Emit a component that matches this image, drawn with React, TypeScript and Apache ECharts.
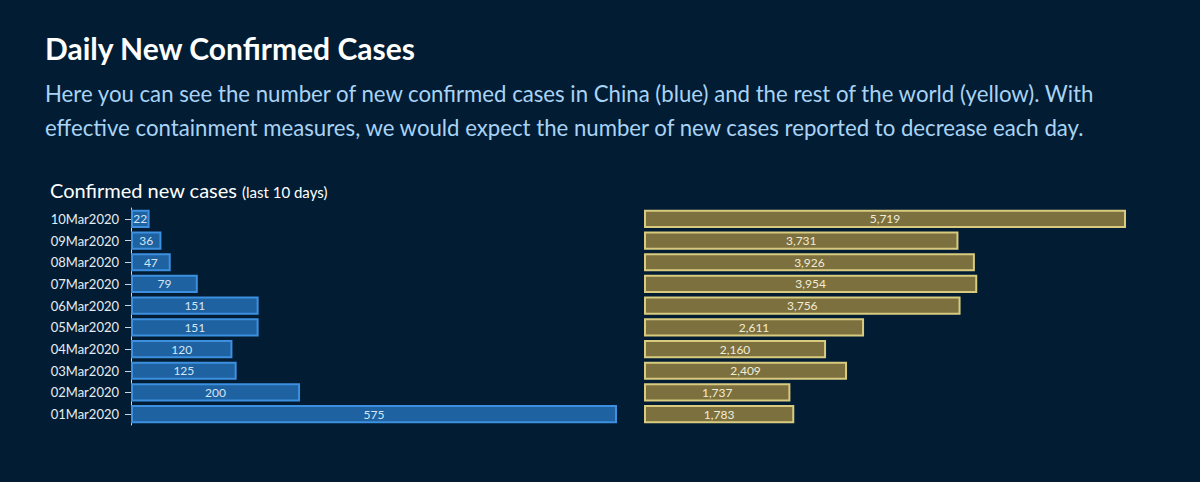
import React, { useEffect, useRef } from "react";
import * as echarts from "echarts";

const dates = ["10Mar2020", "09Mar2020", "08Mar2020", "07Mar2020", "06Mar2020", "05Mar2020", "04Mar2020", "03Mar2020", "02Mar2020", "01Mar2020"];
const chinaCases = [22, 36, 47, 79, 151, 151, 120, 125, 200, 575];
const worldCases = [5719, 3731, 3926, 3954, 3756, 2611, 2160, 2409, 1737, 1783];

const BG = "#021d33";

export default function App() {
  const ref = useRef<HTMLDivElement>(null);
  useEffect(() => {
    if (!ref.current) return;
    const chart = echarts.init(ref.current, null, { renderer: "svg" });
    const fmt = (v: number) => v.toLocaleString("en-US");
    chart.setOption({
      animation: false,
      backgroundColor: BG,
      textStyle: { fontFamily: "Lato" },
      graphic: [
        { type: "text", left: 45, top: 33, style: { text: "Daily New Confirmed Cases", fill: "#ffffff", font: "bold 30px Lato" } },
        { type: "text", left: 45, top: 82, style: { text: "Here you can see the number of new confirmed cases in China (blue) and the rest of the world (yellow). With", fill: "#a9d3f5", font: "22.2px Lato" } },
        { type: "text", left: 45, top: 116, style: { text: "effective containment measures, we would expect the number of new cases reported to decrease each day.", fill: "#a9d3f5", font: "22.2px Lato" } },
        { type: "text", left: 50, top: 180, style: { text: "Confirmed new cases", fill: "#ffffff", font: "20px Lato" } },
        { type: "text", left: 242, top: 184, style: { text: "(last 10 days)", fill: "#ffffff", font: "15px Lato" } },
      ],
      grid: [
        { left: 131, width: 486, top: 208, height: 217, containLabel: false },
        { left: 644, width: 482, top: 208, height: 217, containLabel: false },
      ],
      xAxis: [
        { gridIndex: 0, type: "value", min: 0, max: 575, show: false },
        { gridIndex: 1, type: "value", min: 0, max: 5719, show: false },
      ],
      yAxis: [
        {
          gridIndex: 0, type: "category", data: dates, inverse: true,
          axisLine: { show: true, lineStyle: { color: "#c9d6e3", width: 1 } },
          axisTick: { show: true, length: 6, alignWithLabel: true, lineStyle: { color: "#c9d6e3" } },
          axisLabel: { color: "#e6edf4", fontSize: 13, fontFamily: "Lato", margin: 12 },
          splitLine: { show: false },
        },
        {
          gridIndex: 1, type: "category", data: dates, inverse: true,
          axisLine: { show: false }, axisTick: { show: false }, axisLabel: { show: false },
          splitLine: { show: false },
        },
      ],
      series: [
        {
          type: "bar", xAxisIndex: 0, yAxisIndex: 0, data: chinaCases,
          barCategoryGap: "16%",
          itemStyle: { color: "#1f62a1", borderColor: "#3d90df", borderWidth: 2 },
          label: { show: true, position: "inside", color: "#d4e6f7", fontSize: 12, fontFamily: "Lato", formatter: (p: any) => fmt(p.value) },
        },
        {
          type: "bar", xAxisIndex: 1, yAxisIndex: 1, data: worldCases,
          barCategoryGap: "16%",
          itemStyle: { color: "#7d703f", borderColor: "#d8cb80", borderWidth: 2 },
          label: { show: true, position: "inside", color: "#f1ecd6", fontSize: 12, fontFamily: "Lato", formatter: (p: any) => fmt(p.value) },
        },
      ],
    });
    return () => chart.dispose();
  }, []);
  return (
    <div style={{ position: "absolute", left: 0, top: 0, width: 1200, height: 482, background: BG }}>
      <div ref={ref} style={{ width: 1200, height: 482 }} />
    </div>
  );
}
